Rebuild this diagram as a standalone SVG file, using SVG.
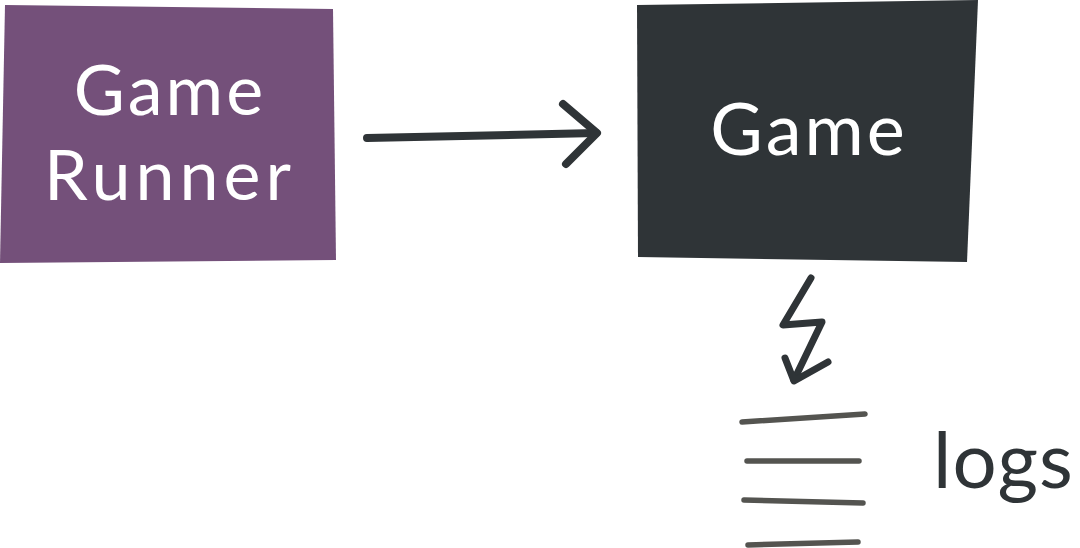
<svg xmlns="http://www.w3.org/2000/svg" width="1080" height="548" viewBox="0 0 1080 548">
<style>
.lbl{font-family:Lato,"Open Sans","Noto Sans",sans-serif;fill:#ffffff;text-anchor:middle;letter-spacing:3px}
.ink{fill:none;stroke:#2f3437;stroke-linecap:round;stroke-linejoin:round}
.log{fill:none;stroke:#545450;stroke-width:5.5;stroke-linecap:round}
</style>
<rect width="1080" height="548" fill="#ffffff"/>
<g id="game-runner">
<polygon points="5,5 333,9 336,260 0,263" fill="#74507a"/>
<text class="lbl" x="170" y="115" font-size="70">Game</text>
<text class="lbl" x="170" y="200" font-size="70" style="letter-spacing:5px">Runner</text>
</g>
<g id="game">
<polygon points="637,5 978,0 967,262 638,257" fill="#2f3437"/>
<text class="lbl" x="809" y="155" font-size="72">Game</text>
</g>
<g id="logs">
<line class="log" x1="742" y1="422" x2="865" y2="414"/>
<line class="log" x1="747" y1="461" x2="859" y2="461"/>
<line class="log" x1="744" y1="500" x2="863" y2="503"/>
<line class="log" x1="748" y1="545" x2="858" y2="542"/>
<text x="933" y="488" font-family="Lato,'Open Sans','Noto Sans',sans-serif" font-size="78" fill="#2f3437" letter-spacing="1">logs</text>
</g>
<g id="connectors">
<path class="ink" stroke-width="8" d="M367,138 L596,133"/>
<path class="ink" stroke-width="8" d="M563,104 L597,133 L566,164"/>
<path class="ink" stroke-width="7" d="M811,278 L783,325 L822,322 L794,380"/>
<path class="ink" stroke-width="7" d="M785,358 L794,381 L828,362"/>
</g>
</svg>
